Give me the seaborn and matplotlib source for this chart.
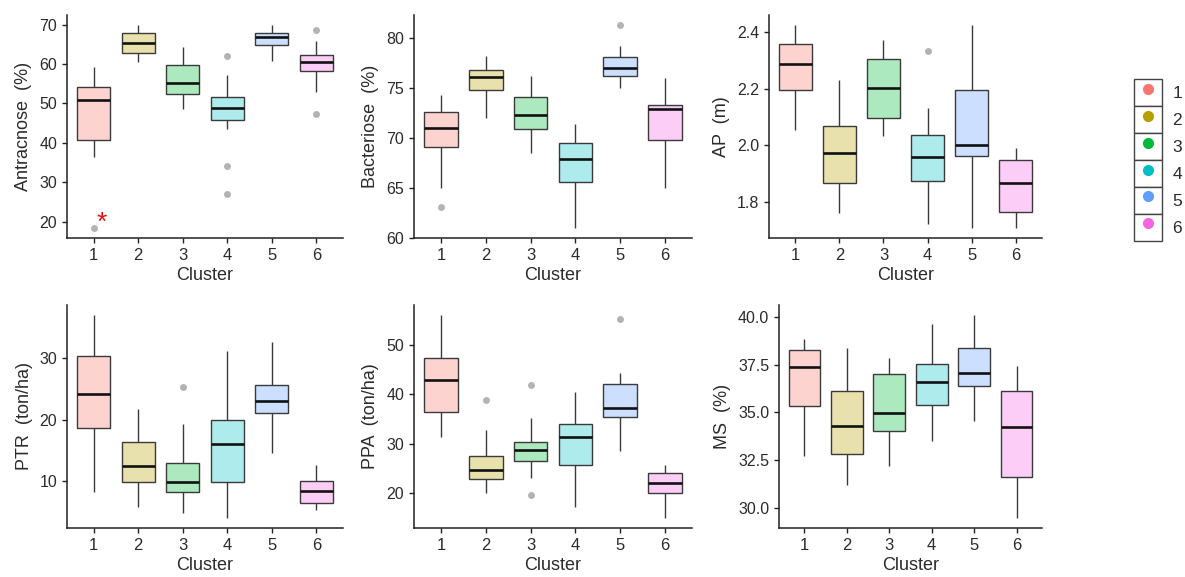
import matplotlib
matplotlib.use("Agg")
import matplotlib.pyplot as plt
from matplotlib.lines import Line2D
from matplotlib.patches import Patch
from matplotlib.legend_handler import HandlerTuple
import matplotlib.colors as mcolors
import numpy as np
import pandas as pd
import seaborn as sns

# ---------------- data ----------------
clusters = ["1", "2", "3", "4", "5", "6"]
hue_colors = ["#F8766D", "#B79F00", "#00BA38", "#00BFC4", "#619CFF", "#F564E3"]

# five-number summaries per cluster: [whisker low, Q1, median, Q3, whisker high]
antracnose_stats = [[36.5, 40.7, 50.8, 54.1, 59.2],
                    [60.5, 62.7, 65.4, 68.0, 69.9],
                    [48.6, 52.5, 55.2, 59.7, 64.4],
                    [43.6, 45.9, 48.8, 51.6, 57.3],
                    [60.8, 64.9, 66.9, 68.0, 69.9],
                    [52.9, 58.2, 60.5, 62.2, 65.8]]
antracnose_out = [[18.4], [], [], [62.1, 34.2, 27.0], [], [68.6, 47.4]]

bacteriose_stats = [[65.0, 69.1, 71.0, 72.6, 74.3],
                    [72.0, 74.8, 76.1, 76.8, 78.2],
                    [68.5, 70.9, 72.3, 74.1, 76.2],
                    [61.0, 65.6, 67.9, 69.5, 71.4],
                    [75.0, 76.2, 77.0, 78.1, 79.2],
                    [65.0, 69.8, 72.9, 73.3, 76.0]]
bacteriose_out = [[63.1], [], [], [], [81.3], []]

ap_stats = [[2.054, 2.194, 2.288, 2.359, 2.424],
            [1.760, 1.867, 1.972, 2.068, 2.232],
            [2.034, 2.097, 2.202, 2.303, 2.373],
            [1.721, 1.876, 1.960, 2.036, 2.130],
            [1.709, 1.961, 2.001, 2.194, 2.424],
            [1.709, 1.766, 1.868, 1.947, 1.989]]
ap_out = [[], [], [], [2.333], [], []]

ptr_stats = [[8.2, 18.7, 24.2, 30.4, 37.0],
             [5.8, 9.8, 12.5, 16.3, 21.8],
             [4.8, 8.2, 9.9, 13.0, 19.2],
             [4.0, 9.8, 16.0, 20.0, 31.1],
             [14.6, 21.0, 23.0, 25.7, 32.7],
             [5.2, 6.4, 8.3, 10.0, 12.6]]
ptr_out = [[], [], [25.3], [], [], []]

ppa_stats = [[31.4, 36.5, 42.9, 47.4, 56.1],
             [19.9, 22.8, 24.7, 27.5, 32.7],
             [23.1, 26.4, 28.6, 30.3, 35.2],
             [17.1, 25.6, 31.3, 34.0, 40.5],
             [28.4, 35.3, 37.2, 42.1, 44.4],
             [14.9, 19.9, 22.0, 24.1, 25.6]]
ppa_out = [[], [38.8], [41.9, 19.5], [], [55.4], []]

ms_stats = [[32.72, 35.33, 37.37, 38.25, 38.82],
            [31.18, 32.81, 34.30, 36.09, 38.37],
            [32.19, 34.00, 34.98, 37.02, 37.86],
            [33.51, 35.39, 36.61, 37.53, 39.65],
            [34.56, 36.40, 37.07, 38.37, 40.09],
            [29.47, 31.63, 34.23, 36.14, 37.42]]
ms_out = [[], [], [], [], [], []]

y_labels = ["Antracnose  (%)", "Bacteriose  (%)", "AP  (m)",
            "PTR  (ton/ha)", "PPA  (ton/ha)", "MS  (%)"]
y_ticks = [[20, 30, 40, 50, 60, 70],
           [60, 65, 70, 75, 80],
           [1.8, 2.0, 2.2, 2.4],
           [10, 20, 30],
           [20, 30, 40, 50],
           [30.0, 32.5, 35.0, 37.5, 40.0]]
y_tick_labels = [["20", "30", "40", "50", "60", "70"],
                 ["60", "65", "70", "75", "80"],
                 ["1.8", "2.0", "2.2", "2.4"],
                 ["10", "20", "30"],
                 ["20", "30", "40", "50"],
                 ["30.0", "32.5", "35.0", "37.5", "40.0"]]

# ---------------- style ----------------
sns.set_theme(style="ticks")
plt.rcParams["font.family"] = ["Liberation Sans", "DejaVu Sans"]
TXT = "#2b2b2b"
plt.rcParams.update({
    "axes.edgecolor": "#222222",
    "axes.linewidth": 1.1,
    "xtick.color": "#222222",
    "ytick.color": "#222222",
    "xtick.labelcolor": TXT,
    "ytick.labelcolor": TXT,
    "xtick.major.size": 3.5,
    "ytick.major.size": 3.5,
    "xtick.major.width": 1.0,
    "ytick.major.width": 1.0,
    "xtick.labelsize": 12,
    "ytick.labelsize": 11.5,
    "axes.labelsize": 13,
    "axes.labelcolor": TXT,
})

def lighten(c, a=0.32):
    r, g, b = mcolors.to_rgb(c)
    return (1 - a + a * r, 1 - a + a * g, 1 - a + a * b)

fill_colors = [lighten(c) for c in hue_colors]

fig = plt.figure(figsize=(11.85, 5.77), dpi=100)

positions = [
    (67, 15, 343, 238), (414, 15, 692, 238), (769, 15, 1042, 238),
    (67, 305, 343, 528), (414, 305, 692, 528), (779, 305, 1042, 528),
]
W, H = 1185, 577

all_stats = [antracnose_stats, bacteriose_stats, ap_stats, ptr_stats, ppa_stats, ms_stats]
all_out = [antracnose_out, bacteriose_out, ap_out, ptr_out, ppa_out, ms_out]

axes = []
for i in range(6):
    l, t, r, b = positions[i]
    ax = fig.add_axes([l / W, 1 - b / H, (r - l) / W, (b - t) / H])
    axes.append(ax)
    stats = all_stats[i]
    df = pd.DataFrame({
        "Cluster": np.repeat(clusters, 5),
        "value": np.concatenate([np.array(s, dtype=float) for s in stats]),
    })
    sns.boxplot(data=df, x="Cluster", y="value", hue="Cluster",
                order=clusters, hue_order=clusters, palette=fill_colors,
                saturation=1, dodge=False, width=0.75, whis=(0, 100),
                showfliers=False, showcaps=False, linecolor="#3a3a3a",
                linewidth=1.0,
                medianprops=dict(color="#111111", linewidth=1.9),
                legend=False, ax=ax)
    outs = all_out[i]
    oc = [c for c, o in zip(clusters, outs) for _ in o]
    ov = [v for o in outs for v in o]
    if ov:
        odf = pd.DataFrame({"Cluster": oc, "value": ov})
        sns.stripplot(data=odf, x="Cluster", y="value", order=clusters,
                      jitter=False, color="#9a9a9a", size=5, alpha=0.75,
                      linewidth=0, ax=ax)
    vals = np.concatenate([np.concatenate([np.array(s) for s in stats]),
                           np.array(ov, dtype=float)])
    lo, hi = vals.min(), vals.max()
    pad = 0.05 * (hi - lo)
    ax.set_ylim(lo - pad, hi + pad)
    ax.set_xlim(-0.6, 5.6)
    ax.set_yticks(y_ticks[i])
    ax.set_yticklabels(y_tick_labels[i])
    ax.set_xlabel("Cluster", labelpad=3)
    ax.set_ylabel(y_labels[i], labelpad=5)
    sns.despine(ax=ax)

# red asterisk marking the outlier in the first panel
axes[0].text(0.18, 19.7, "*", color="#e01010", fontsize=19,
             ha="center", va="center")

# legend
handles = [(Patch(facecolor="white", edgecolor="#444444", linewidth=1.0),
            Line2D([], [], marker="o", color=c, linestyle="", markersize=7))
           for c in hue_colors]
fig.legend(handles, clusters, handler_map={tuple: HandlerTuple(ndivide=1, pad=0)},
           loc="center left", bbox_to_anchor=(1134 / W, 1 - 160 / H),
           frameon=False, fontsize=12.5, handlelength=1.61, handleheight=2.015,
           labelspacing=0, handletextpad=0.6, borderpad=0, borderaxespad=0,
           labelcolor=TXT)

fig.savefig("out.png", dpi=100)
